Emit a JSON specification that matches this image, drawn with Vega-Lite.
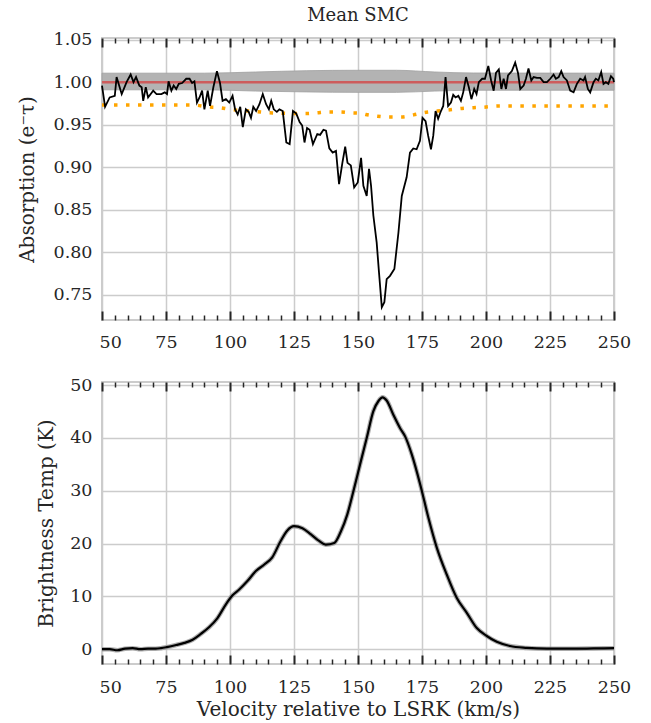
{
  "$schema": "https://vega.github.io/schema/vega-lite/v6.json",
  "padding": {"left": 16, "top": 6, "right": 8, "bottom": 0},
  "spacing": 23,
  "config": {
    "font": "DejaVu Serif",
    "view": {"stroke": "#cccccc", "strokeWidth": 2},
    "axis": {
      "labelFont": "DejaVu Serif",
      "titleFont": "DejaVu Serif",
      "labelFontSize": 17.5,
      "titleFontSize": 20,
      "titleFontWeight": "normal",
      "labelColor": "#262626",
      "titleColor": "#262626",
      "gridColor": "#cccccc",
      "gridWidth": 1.5,
      "domain": false,
      "tickColor": "#262626"
    }
  },
  "datasets": {
    "absorption": [
      {"v": 50, "a": 0.996}, {"v": 51.2, "a": 0.971}, {"v": 53, "a": 0.982}, {"v": 55, "a": 0.984},
      {"v": 55.7, "a": 1.006}, {"v": 57.7, "a": 0.986}, {"v": 59.6, "a": 1.0}, {"v": 61.2, "a": 1.009},
      {"v": 62.3, "a": 1.0}, {"v": 63.3, "a": 1.006}, {"v": 64.6, "a": 0.996}, {"v": 65.5, "a": 0.994},
      {"v": 66.1, "a": 0.978}, {"v": 67.1, "a": 0.994}, {"v": 68, "a": 0.982}, {"v": 70, "a": 0.99},
      {"v": 71.3, "a": 0.986}, {"v": 73.2, "a": 0.986}, {"v": 74.5, "a": 0.988}, {"v": 75.4, "a": 0.986},
      {"v": 76, "a": 1.001}, {"v": 77.1, "a": 0.99}, {"v": 78, "a": 0.996}, {"v": 79, "a": 0.992},
      {"v": 80, "a": 0.998}, {"v": 81.3, "a": 0.999}, {"v": 82.9, "a": 1.004}, {"v": 84.2, "a": 1.004},
      {"v": 85.2, "a": 0.999}, {"v": 86.1, "a": 1.001}, {"v": 87.1, "a": 0.976}, {"v": 88.1, "a": 0.982},
      {"v": 89.1, "a": 0.99}, {"v": 90, "a": 0.968}, {"v": 91.3, "a": 0.99}, {"v": 92.2, "a": 0.972},
      {"v": 93.5, "a": 0.994}, {"v": 94.9, "a": 1.013}, {"v": 96.1, "a": 0.999}, {"v": 97.1, "a": 0.978},
      {"v": 98.4, "a": 0.98}, {"v": 99.7, "a": 0.976}, {"v": 101, "a": 0.984}, {"v": 102, "a": 0.968},
      {"v": 103, "a": 0.962}, {"v": 104, "a": 0.971}, {"v": 105, "a": 0.947}, {"v": 106.2, "a": 0.968},
      {"v": 107.3, "a": 0.965}, {"v": 108.2, "a": 0.958}, {"v": 109.1, "a": 0.971}, {"v": 110.2, "a": 0.966},
      {"v": 111.5, "a": 0.974}, {"v": 112.8, "a": 0.986}, {"v": 114.1, "a": 0.974}, {"v": 115.2, "a": 0.968},
      {"v": 116.1, "a": 0.978}, {"v": 117.1, "a": 0.968}, {"v": 118.3, "a": 0.965}, {"v": 119.3, "a": 0.968},
      {"v": 120.6, "a": 0.966}, {"v": 122, "a": 0.929}, {"v": 123.3, "a": 0.927}, {"v": 124.6, "a": 0.966},
      {"v": 125.9, "a": 0.963}, {"v": 127.2, "a": 0.953}, {"v": 128.2, "a": 0.949}, {"v": 129.1, "a": 0.929},
      {"v": 130.1, "a": 0.946}, {"v": 131.1, "a": 0.944}, {"v": 132.4, "a": 0.927}, {"v": 134.1, "a": 0.939},
      {"v": 135.2, "a": 0.938}, {"v": 136.5, "a": 0.944}, {"v": 137.5, "a": 0.943}, {"v": 138.8, "a": 0.922},
      {"v": 140.1, "a": 0.917}, {"v": 141.4, "a": 0.919}, {"v": 142.6, "a": 0.88}, {"v": 143.9, "a": 0.905},
      {"v": 145, "a": 0.924}, {"v": 145.9, "a": 0.905}, {"v": 147.2, "a": 0.902}, {"v": 148.5, "a": 0.876},
      {"v": 149.9, "a": 0.882}, {"v": 151.2, "a": 0.911}, {"v": 152.1, "a": 0.878}, {"v": 153.4, "a": 0.866},
      {"v": 154.3, "a": 0.898}, {"v": 155.1, "a": 0.878}, {"v": 156, "a": 0.843}, {"v": 157.3, "a": 0.811},
      {"v": 158.2, "a": 0.776}, {"v": 159.3, "a": 0.735}, {"v": 160.3, "a": 0.741}, {"v": 161.2, "a": 0.768},
      {"v": 162.5, "a": 0.772}, {"v": 164.2, "a": 0.78}, {"v": 165.8, "a": 0.823}, {"v": 167.1, "a": 0.866},
      {"v": 169, "a": 0.888}, {"v": 170.3, "a": 0.917}, {"v": 171.6, "a": 0.922}, {"v": 172.9, "a": 0.921},
      {"v": 174.2, "a": 0.931}, {"v": 175.2, "a": 0.958}, {"v": 176.4, "a": 0.954}, {"v": 177.4, "a": 0.937},
      {"v": 178.5, "a": 0.921}, {"v": 179.4, "a": 0.937}, {"v": 180.3, "a": 0.966}, {"v": 181.3, "a": 0.957},
      {"v": 182.4, "a": 0.966}, {"v": 183.3, "a": 0.972}, {"v": 184.2, "a": 1.006}, {"v": 185.2, "a": 0.972},
      {"v": 186.3, "a": 0.976}, {"v": 187.2, "a": 0.985}, {"v": 188.1, "a": 0.982}, {"v": 189.2, "a": 0.984},
      {"v": 190.2, "a": 0.978}, {"v": 191.1, "a": 0.988}, {"v": 192.2, "a": 1.006}, {"v": 193.3, "a": 0.994},
      {"v": 194.3, "a": 0.98}, {"v": 195.4, "a": 0.992}, {"v": 196.3, "a": 0.986}, {"v": 197.2, "a": 1.0},
      {"v": 198.5, "a": 1.004}, {"v": 199.6, "a": 1.004}, {"v": 200.9, "a": 1.019}, {"v": 202, "a": 1.002},
      {"v": 203, "a": 0.99}, {"v": 203.9, "a": 1.011}, {"v": 205, "a": 1.015}, {"v": 206, "a": 0.992},
      {"v": 206.9, "a": 1.004}, {"v": 207.8, "a": 0.992}, {"v": 208.6, "a": 1.008}, {"v": 210.1, "a": 1.013},
      {"v": 211.4, "a": 1.023}, {"v": 212.5, "a": 1.011}, {"v": 213.4, "a": 0.992}, {"v": 214.7, "a": 0.996},
      {"v": 215.6, "a": 1.004}, {"v": 216.6, "a": 1.016}, {"v": 217.7, "a": 1.002}, {"v": 218.6, "a": 1.006},
      {"v": 219.9, "a": 1.005}, {"v": 221.2, "a": 1.005}, {"v": 222.5, "a": 1.0}, {"v": 223.8, "a": 1.0},
      {"v": 225.1, "a": 1.004}, {"v": 226.4, "a": 1.009}, {"v": 227.3, "a": 1.004}, {"v": 228.4, "a": 1.006},
      {"v": 229.4, "a": 1.013}, {"v": 230.3, "a": 1.006}, {"v": 231.6, "a": 1.002}, {"v": 232.9, "a": 0.99},
      {"v": 234.2, "a": 0.988}, {"v": 235.5, "a": 0.998}, {"v": 236.8, "a": 1.004}, {"v": 238.1, "a": 1.002},
      {"v": 238.7, "a": 1.006}, {"v": 239.8, "a": 0.992}, {"v": 240.7, "a": 0.988}, {"v": 242, "a": 1.0},
      {"v": 242.9, "a": 1.004}, {"v": 243.9, "a": 1.002}, {"v": 245, "a": 1.012}, {"v": 245.9, "a": 0.998},
      {"v": 246.8, "a": 1.0}, {"v": 247.8, "a": 0.998}, {"v": 248.8, "a": 1.007}, {"v": 249.7, "a": 1.004},
      {"v": 250, "a": 1.0}
    ],
    "noise_band": [
      {"v": 50, "lo": 0.991, "hi": 1.0106}, {"v": 90, "lo": 0.991, "hi": 1.0106},
      {"v": 110, "lo": 0.9895, "hi": 1.012}, {"v": 130, "lo": 0.9885, "hi": 1.0135},
      {"v": 150, "lo": 0.988, "hi": 1.014}, {"v": 165, "lo": 0.988, "hi": 1.014},
      {"v": 180, "lo": 0.9895, "hi": 1.012}, {"v": 195, "lo": 0.9905, "hi": 1.0108},
      {"v": 250, "lo": 0.9905, "hi": 1.0106}
    ],
    "continuum": [{"v": 50, "a": 1.0}, {"v": 250, "a": 1.0}],
    "limit": [
      {"v": 50, "a": 0.973}, {"v": 86, "a": 0.973}, {"v": 91, "a": 0.971}, {"v": 96, "a": 0.97},
      {"v": 100, "a": 0.968}, {"v": 105, "a": 0.9665}, {"v": 110, "a": 0.9655}, {"v": 115, "a": 0.964},
      {"v": 120, "a": 0.9635}, {"v": 125, "a": 0.963}, {"v": 130, "a": 0.963}, {"v": 134, "a": 0.964},
      {"v": 138, "a": 0.965}, {"v": 143, "a": 0.965}, {"v": 147, "a": 0.964}, {"v": 151, "a": 0.9635},
      {"v": 153, "a": 0.962}, {"v": 157.5, "a": 0.96}, {"v": 162, "a": 0.959}, {"v": 167, "a": 0.959},
      {"v": 171.7, "a": 0.9615}, {"v": 176, "a": 0.9643}, {"v": 181, "a": 0.966}, {"v": 186, "a": 0.9675},
      {"v": 190, "a": 0.969}, {"v": 195, "a": 0.97}, {"v": 199, "a": 0.9705}, {"v": 205, "a": 0.972},
      {"v": 250, "a": 0.972}
    ],
    "emission": [
      {"v": 50, "t": 0.0}, {"v": 53, "t": 0.0}, {"v": 56, "t": -0.2}, {"v": 59, "t": 0.1},
      {"v": 62, "t": 0.2}, {"v": 65, "t": 0.0}, {"v": 68, "t": 0.1}, {"v": 71, "t": 0.1},
      {"v": 73, "t": 0.2}, {"v": 75.3, "t": 0.4}, {"v": 79, "t": 0.8}, {"v": 82.2, "t": 1.2},
      {"v": 85.4, "t": 1.8}, {"v": 88.6, "t": 2.9}, {"v": 91.9, "t": 4.2}, {"v": 95.1, "t": 5.9},
      {"v": 98.4, "t": 8.5}, {"v": 101, "t": 10.2}, {"v": 103.6, "t": 11.3}, {"v": 106.8, "t": 12.9},
      {"v": 110.1, "t": 14.8}, {"v": 113.3, "t": 16.0}, {"v": 116.5, "t": 17.4}, {"v": 119.8, "t": 20.5},
      {"v": 122.4, "t": 22.5}, {"v": 125, "t": 23.3}, {"v": 128.3, "t": 22.9}, {"v": 131.5, "t": 21.8},
      {"v": 134.8, "t": 20.5}, {"v": 137.4, "t": 19.8}, {"v": 140.7, "t": 20.1}, {"v": 143.3, "t": 22.3},
      {"v": 145.8, "t": 25.5}, {"v": 148.2, "t": 29.9}, {"v": 150.8, "t": 35.0}, {"v": 153.4, "t": 40.0},
      {"v": 156, "t": 45.1}, {"v": 158, "t": 47.0}, {"v": 159.6, "t": 47.7}, {"v": 161.2, "t": 47.1},
      {"v": 163.8, "t": 44.4}, {"v": 166.4, "t": 41.9}, {"v": 168.4, "t": 40.3}, {"v": 171, "t": 36.9},
      {"v": 174.3, "t": 31.2}, {"v": 177.5, "t": 24.9}, {"v": 180.8, "t": 19.2}, {"v": 184.7, "t": 14.1},
      {"v": 188.6, "t": 9.7}, {"v": 192.5, "t": 6.9}, {"v": 196.4, "t": 4.0}, {"v": 200.3, "t": 2.5},
      {"v": 204.2, "t": 1.4}, {"v": 209.4, "t": 0.6}, {"v": 215.9, "t": 0.25}, {"v": 223.8, "t": 0.1},
      {"v": 234.2, "t": 0.1}, {"v": 242, "t": 0.15}, {"v": 250, "t": 0.2}
    ]
  },
  "vconcat": [
    {
      "width": 512,
      "height": 282,
      "title": {"text": "Mean SMC", "font": "DejaVu Serif", "fontSize": 18, "fontWeight": "normal", "color": "#262626", "offset": 5.5},
      "resolve": {"axis": {"x": "independent"}},
      "layer": [
        {
          "data": {"name": "noise_band"},
          "mark": {"type": "area", "color": "#b3b3b3", "interpolate": "monotone", "stroke": "#a0a0a0", "strokeWidth": 0.8},
          "encoding": {
            "x": {"field": "v", "type": "quantitative", "scale": {"domain": [50, 250], "nice": false},
              "axis": {"orient": "bottom", "title": null, "values": [50,55,60,65,70,75,80,85,90,95,100,105,110,115,120,125,130,135,140,145,150,155,160,165,170,175,180,185,190,195,200,205,210,215,220,225,230,235,240,245,250],
                "labelFont": "DejaVu Serif", "labelFontSize": 17.5,
                "labelExpr": "datum.value % 25 === 0 ? datum.label : ''", "labelFlush": false, "labelPadding": 22,
                "labelAlign": {"condition": {"test": "datum.value === 50", "value": "left"}, "value": "center"},
                "labelOffset": {"condition": {"test": "datum.value === 50", "value": -3}, "value": 0},
                "tickSize": {"condition": {"test": "datum.value % 25 === 0", "value": -9}, "value": -5},
                "tickWidth": {"condition": {"test": "datum.value % 25 === 0", "value": 2}, "value": 1.5},
                "grid": true,
                "gridOpacity": {"condition": {"test": "datum.value % 25 === 0", "value": 1}, "value": 0}}},
            "y": {"field": "lo", "type": "quantitative", "scale": {"domain": [0.72, 1.052], "nice": false, "zero": false},
              "axis": {"title": "Absorption (e⁻τ)", "titleFont": "DejaVu Serif", "titleFontSize": 20, "labelFont": "DejaVu Serif", "labelFontSize": 17.5,
                "values": [0.75, 0.8, 0.85, 0.9, 0.95, 1.0, 1.05], "format": ".2f", "ticks": false, "labelPadding": 10, "titlePadding": 16, "grid": true}},
            "y2": {"field": "hi"}
          }
        },
        {
          "data": {"name": "continuum"},
          "mark": {"type": "line", "color": "#cd5c5c", "strokeWidth": 2.5},
          "encoding": {
            "x": {"field": "v", "type": "quantitative",
              "axis": {"orient": "top", "title": null, "labels": false, "grid": false,
                "values": [50,55,60,65,70,75,80,85,90,95,100,105,110,115,120,125,130,135,140,145,150,155,160,165,170,175,180,185,190,195,200,205,210,215,220,225,230,235,240,245,250],
                "tickSize": {"condition": {"test": "datum.value % 25 === 0", "value": -9}, "value": -5},
                "tickWidth": {"condition": {"test": "datum.value % 25 === 0", "value": 2}, "value": 1.5}}},
            "y": {"field": "a", "type": "quantitative"}
          }
        },
        {
          "data": {"name": "limit"},
          "mark": {"type": "line", "color": "#ffa500", "strokeWidth": 3.5, "strokeDash": [3.5, 8.5], "strokeCap": "butt", "interpolate": "monotone"},
          "encoding": {
            "x": {"field": "v", "type": "quantitative", "axis": null},
            "y": {"field": "a", "type": "quantitative"}
          }
        },
        {
          "data": {"name": "absorption"},
          "mark": {"type": "line", "color": "#000000", "strokeWidth": 1.8},
          "encoding": {
            "x": {"field": "v", "type": "quantitative", "axis": null},
            "y": {"field": "a", "type": "quantitative"}
          }
        }
      ]
    },
    {
      "width": 512,
      "height": 282,
      "resolve": {"axis": {"x": "independent"}},
      "data": {"name": "emission"},
      "layer": [
        {
          "mark": {"type": "line", "color": "#8c8c8c", "strokeWidth": 4.5, "opacity": 0.7, "interpolate": "monotone"},
          "encoding": {
            "x": {"field": "v", "type": "quantitative", "scale": {"domain": [50, 250], "nice": false},
              "axis": {"orient": "bottom", "title": "Velocity relative to LSRK (km/s)", "titlePadding": 4,
                "titleFont": "DejaVu Serif", "titleFontSize": 20, "labelFont": "DejaVu Serif", "labelFontSize": 17.5,
                "values": [50,55,60,65,70,75,80,85,90,95,100,105,110,115,120,125,130,135,140,145,150,155,160,165,170,175,180,185,190,195,200,205,210,215,220,225,230,235,240,245,250],
                "labelExpr": "datum.value % 25 === 0 ? datum.label : ''", "labelFlush": false, "labelPadding": 23,
                "labelAlign": {"condition": {"test": "datum.value === 50", "value": "left"}, "value": "center"},
                "labelOffset": {"condition": {"test": "datum.value === 50", "value": -3}, "value": 0},
                "tickSize": {"condition": {"test": "datum.value % 25 === 0", "value": -9}, "value": -5},
                "tickWidth": {"condition": {"test": "datum.value % 25 === 0", "value": 2}, "value": 1.5},
                "grid": true,
                "gridOpacity": {"condition": {"test": "datum.value % 25 === 0", "value": 1}, "value": 0}}},
            "y": {"field": "t", "type": "quantitative", "scale": {"domain": [-2.8, 50.6], "nice": false, "zero": false},
              "axis": {"title": "Brightness Temp (K)", "titleFont": "DejaVu Serif", "titleFontSize": 20, "labelFont": "DejaVu Serif", "labelFontSize": 17.5,
                "values": [0, 10, 20, 30, 40, 50], "ticks": false, "labelPadding": 10, "titlePadding": 13.5, "grid": true}}
          }
        },
        {
          "mark": {"type": "line", "color": "#000000", "strokeWidth": 2.2, "interpolate": "monotone"},
          "encoding": {
            "x": {"field": "v", "type": "quantitative",
              "axis": {"orient": "top", "title": null, "labels": false, "grid": false,
                "values": [50,55,60,65,70,75,80,85,90,95,100,105,110,115,120,125,130,135,140,145,150,155,160,165,170,175,180,185,190,195,200,205,210,215,220,225,230,235,240,245,250],
                "tickSize": {"condition": {"test": "datum.value % 25 === 0", "value": -9}, "value": -5},
                "tickWidth": {"condition": {"test": "datum.value % 25 === 0", "value": 2}, "value": 1.5}}},
            "y": {"field": "t", "type": "quantitative"}
          }
        }
      ]
    }
  ]
}
